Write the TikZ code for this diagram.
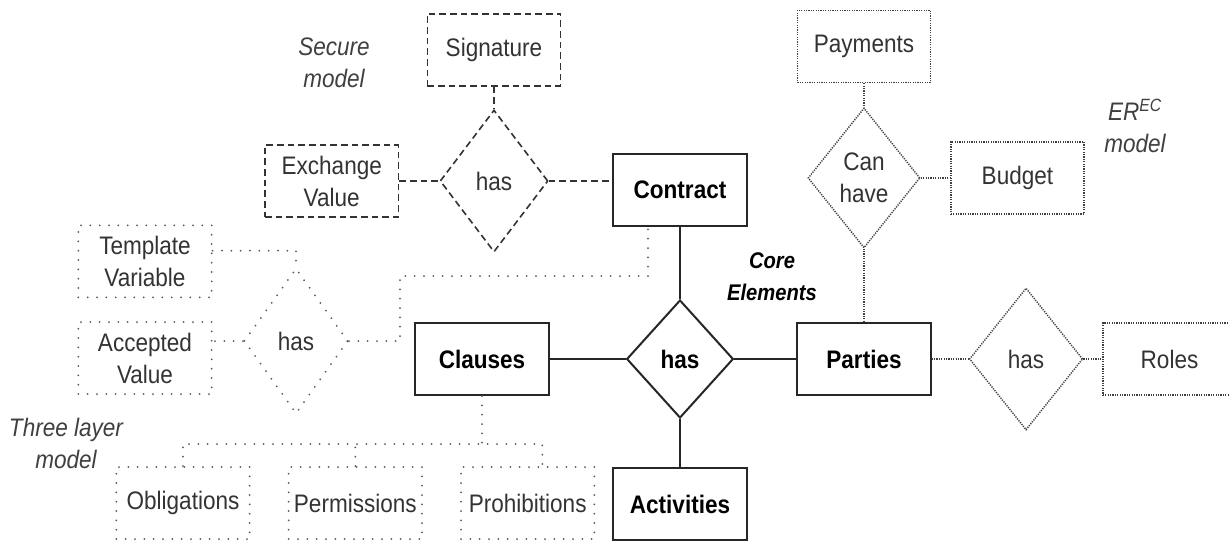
\documentclass[tikz,border=0pt]{standalone}
\usepackage{fontspec}
\setmainfont[FakeStretch=0.89]{Liberation Sans}
\usetikzlibrary{positioning,shapes.geometric}

\begin{document}
\begin{tikzpicture}[x=0.75pt,y=-0.75pt, font=\fontsize{19}{24}\selectfont,
  ent/.style={draw,minimum width=100pt,minimum height=54pt,inner sep=0pt,align=center,text=black!80},
  rel/.style={draw,diamond,inner sep=0pt,align=center,text=black!80},
  core/.style={line width=1.5pt,draw=black!85,text=black,font=\fontsize{19}{24}\selectfont\bfseries},
  sec/.style={line width=1.2pt,dash pattern=on 5pt off 3pt,draw=black!80},
  tlm/.style={line width=1.5pt,dash pattern=on 0pt off 7pt,line cap=round,draw=black!65},
  erec/.style={line width=1.1pt,dash pattern=on 0.9pt off 0.9pt,draw=black!75},
  lbl/.style={font=\fontsize{19}{24}\selectfont\itshape,text=black!75,align=center}]
  \useasboundingbox (0,0) rectangle (1229,540);
  % core elements
  \node[rel,core,minimum width=80pt,minimum height=88.5pt](hasC) at (680,359){has};
  \node[ent,core,above=54pt of hasC](contract){Contract};
  \node[ent,core,below=36pt of hasC](activities){Activities};
  \node[ent,core,left=57pt of hasC](clauses){Clauses};
  \node[ent,core,right=46.5pt of hasC](parties){Parties};
  \draw[core](contract)--(hasC);\draw[core](hasC)--(activities);
  \draw[core](clauses)--(hasC);\draw[core](hasC)--(parties);
  \node[lbl,font=\fontsize{17}{24}\selectfont\bfseries\itshape,text=black](corelbl) at (772,277){Core\\Elements};
  % secure model
  \node[rel,sec,minimum width=81pt,minimum height=106.5pt](hasS) at (494,181){has};
  \node[ent,sec,above=17pt of hasS](signature){Signature};
  \node[ent,sec,left=30pt of hasS](exchange){Exchange\\Value};
  \draw[sec](signature)--(hasS);\draw[sec](exchange)--(hasS);
  \draw[sec](hasS.east)--(hasS.east -| contract.west);
  \node[lbl](securelbl) at (334,63){Secure\\model};
  % ER^EC model
  \node[rel,erec,minimum width=84pt,minimum height=105pt,above=55pt of parties](canhave){Can\\have};
  \node[ent,erec,above=18pt of canhave](payments){Payments};
  \node[ent,erec,right=22pt of canhave](budget){Budget};
  \node[rel,erec,minimum width=85pt,minimum height=106.5pt,right=27.75pt of parties](hasR){has};
  \node[ent,erec,right=14pt of hasR](roles){Roles};
  \draw[erec](payments)--(canhave);\draw[erec](canhave)--(budget);
  \draw[erec](canhave)--(parties);
  \draw[erec](parties)--(hasR);\draw[erec](hasR)--(roles);
  \node[lbl](ereclbl) at (1135,126){ER\textsuperscript{EC}\\model};
  % three layer model
  \node[rel,tlm,minimum width=78pt,minimum height=109pt](hasT) at (296,341){has};
  \node[ent,tlm](accepted) at (145,358){Accepted\\Value};
  \node[ent,tlm,above=17pt of accepted](template){Template\\Variable};
  \draw[tlm]([yshift=8pt]template.east)-|(hasT.north);
  \draw[tlm](hasT.west)--(hasT.west -| accepted.east);
  \coordinate(tbend) at (400,276);
  \draw[tlm](hasT.east)-|(tbend)-|([xshift=-24pt]contract.south);
  \node[ent,tlm](oblig) at (183,503){Obligations};
  \node[ent,tlm,right=27.75pt of oblig](perm){Permissions};
  \node[ent,tlm,right=27.75pt of perm](prohib){Prohibitions};
  \coordinate[below=36pt of clauses.south](bus);
  \draw[tlm](clauses.south)--(bus);
  \draw[tlm](oblig.north)|-(bus)-|([xshift=11pt]prohib.north);
  \draw[tlm](perm.north)--(perm.north |- bus);
  \node[lbl](threelbl) at (66,443){Three layer\\model};
\end{tikzpicture}
\end{document}
